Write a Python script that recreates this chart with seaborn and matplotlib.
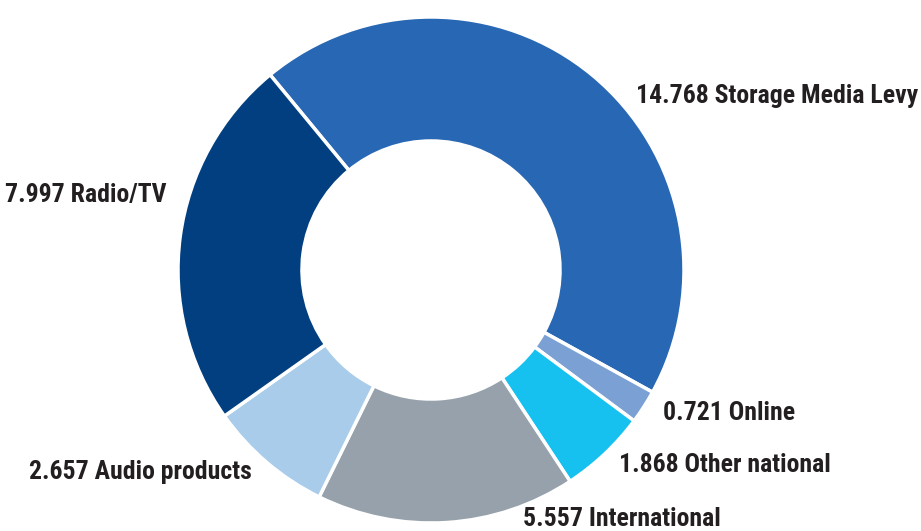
import matplotlib
matplotlib.use("Agg")
import matplotlib.pyplot as plt
import seaborn as sns
from matplotlib import font_manager

categories = ["Storage Media Levy", "Online", "Other national", "International", "Audio products", "Radio/TV"]
values = [14.768, 0.721, 1.868, 5.557, 2.657, 7.997]
value_labels = ["14.768", "0.721", "1.868", "5.557", "2.657", "7.997"]
colors = ["#2767B3", "#7BA0D4", "#16C1F0", "#96A1AB", "#A8CCE9", "#023F80"]

sns.set_theme(style="white")
names = {f.name for f in font_manager.fontManager.ttflist}
fam = ["Liberation Sans Narrow"] if "Liberation Sans Narrow" in names else ["Roboto Condensed", "Liberation Sans", "DejaVu Sans"]
plt.rcParams["font.family"] = fam + ["DejaVu Sans"]

W, H = 921, 531
fig = plt.figure(figsize=(W / 100, H / 100), dpi=100)
cx, cy, r = 431, 270, 253
ax = fig.add_axes([(cx - r) / W, (H - cy - r) / H, 2 * r / W, 2 * r / H])
ax.pie(values, colors=sns.color_palette(colors), startangle=129.5, counterclock=False,
       radius=1.0, wedgeprops=dict(width=0.49, edgecolor="white", linewidth=2.5))
ax.set_xlim(-1, 1)
ax.set_ylim(-1, 1)
ax.set_aspect("equal")
ax.axis("off")

# label layout: (x px, baseline y px, ha)
layout = {
    "Storage Media Levy": (636, 103, "left"),
    "Online": (663, 420, "left"),
    "Other national": (619, 472, "left"),
    "International": (523, 526, "left"),
    "Audio products": (29, 479, "left"),
    "Radio/TV": (166, 202, "right"),
}
for cat, v in zip(categories, value_labels):
    x, y, ha = layout[cat]
    fig.text(x / W, 1 - y / H, f"{v} {cat}", ha=ha, va="baseline",
             fontsize=18.5, fontweight="bold", color="#231F20")

fig.savefig("out.png", dpi=100)
